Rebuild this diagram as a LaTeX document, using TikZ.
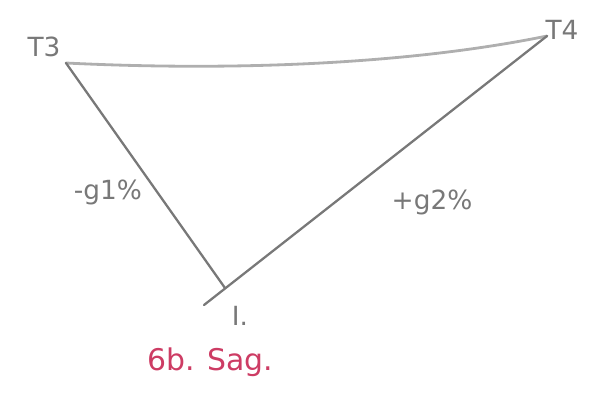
\documentclass[tikz,border=0pt]{standalone}
\usepackage{fontspec}
\setmainfont{DejaVu Sans}
\definecolor{pencil}{RGB}{120,120,120}
\definecolor{pencillight}{RGB}{175,175,175}
\definecolor{inkpink}{RGB}{205,60,100}
\tikzset{
  sketch/.style={draw=pencil, line width=1.3pt, line cap=round},
  sketchlight/.style={draw=pencillight, line width=1.6pt, line cap=round},
  hand/.style={text=pencil, font=\fontsize{15}{17}\selectfont, inner sep=1pt},
  pinkhand/.style={text=inkpink, font=\fontsize{17}{19}\selectfont, inner sep=1pt}
}
\begin{document}
\begin{tikzpicture}[x=0.02cm,y=-0.02cm]
\useasboundingbox (0,0) rectangle (607,417);
\coordinate (t3) at (66,63);
\coordinate (t4) at (547,36);
\coordinate (i) at (225,288);
\coordinate (ilow) at (204,305);
% sides
\draw[sketchlight] (t3) .. controls (250,72) and (420,62) .. (t4);
\draw[sketch] (t3) -- (i);
\draw[sketch] (ilow) -- (t4);
% labels
\node[hand] (lt3) at (44,47) {T3};
\node[hand] (lt4) at (562,30) {T4};
\node[hand] (lg1) at (108,192) {-g1\%};
\node[hand] (lg2) at (432,202) {+g2\%};
\node[hand] (li) at (240,316) {I.};
\node[pinkhand] (title) at (210,362) {6b. Sag.};
\end{tikzpicture}
\end{document}
